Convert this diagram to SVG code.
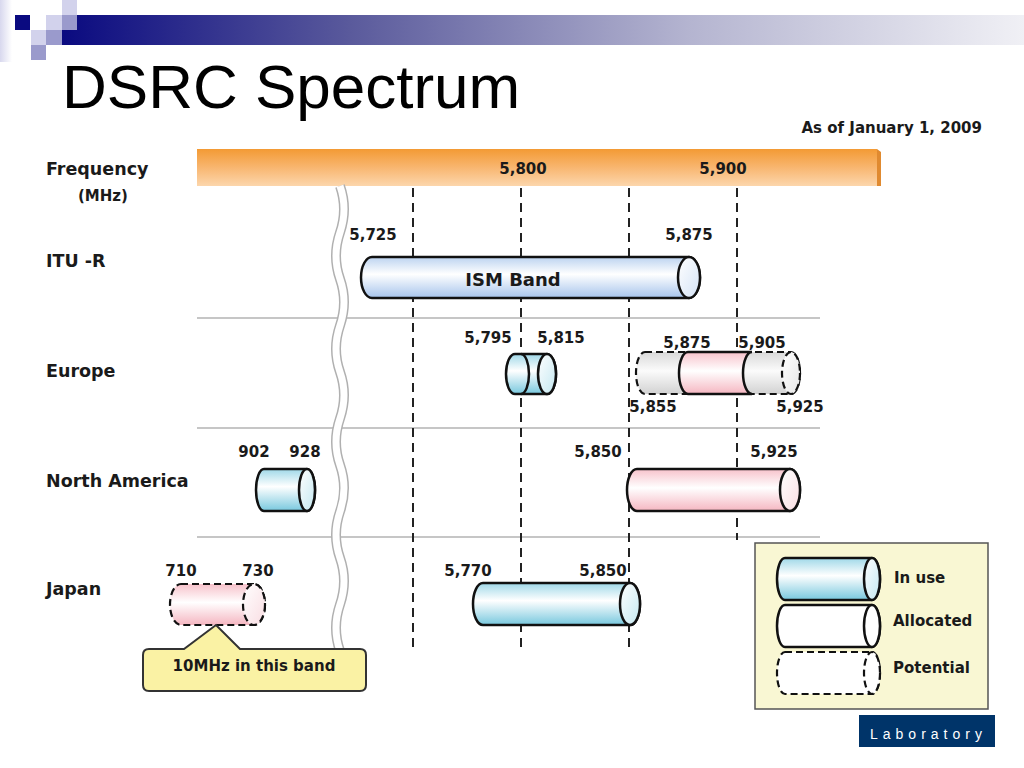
<svg xmlns="http://www.w3.org/2000/svg" width="1024" height="768" viewBox="0 0 1024 768">
<defs>
<linearGradient id="hdrBar" x1="0" y1="0" x2="1" y2="0">
<stop offset="0" stop-color="#0a0a80"/><stop offset="0.3" stop-color="#5a5a9c"/><stop offset="0.65" stop-color="#b4b4d0"/><stop offset="1" stop-color="#f0f0f5"/>
</linearGradient>
<linearGradient id="leftStrip" x1="0" y1="0" x2="1" y2="0">
<stop offset="0" stop-color="#d8d8ee"/><stop offset="1" stop-color="#ffffff"/>
</linearGradient>
<linearGradient id="orange" x1="0" y1="0" x2="0" y2="1">
<stop offset="0" stop-color="#f39a34"/><stop offset="0.5" stop-color="#f8b670"/><stop offset="1" stop-color="#fcd6ac"/>
</linearGradient>
<linearGradient id="gBlue" x1="0" y1="0" x2="0" y2="1">
<stop offset="0" stop-color="#9fd8e8"/><stop offset="0.42" stop-color="#ffffff"/><stop offset="1" stop-color="#78c8de"/>
</linearGradient>
<linearGradient id="gIsm" x1="0" y1="0" x2="0" y2="1">
<stop offset="0" stop-color="#bcd3f0"/><stop offset="0.42" stop-color="#ffffff"/><stop offset="1" stop-color="#a6c4ec"/>
</linearGradient>
<linearGradient id="gPink" x1="0" y1="0" x2="0" y2="1">
<stop offset="0" stop-color="#f7c2cb"/><stop offset="0.45" stop-color="#ffffff"/><stop offset="1" stop-color="#f5b6c1"/>
</linearGradient>
<linearGradient id="gGray" x1="0" y1="0" x2="0" y2="1">
<stop offset="0" stop-color="#d9d9d9"/><stop offset="0.45" stop-color="#fbfbfb"/><stop offset="1" stop-color="#d2d2d2"/>
</linearGradient>
<linearGradient id="fBlue" x1="0" y1="0" x2="1" y2="1">
<stop offset="0" stop-color="#ffffff"/><stop offset="1" stop-color="#c4e8f1"/>
</linearGradient>
<linearGradient id="fIsm" x1="0" y1="0" x2="1" y2="1">
<stop offset="0" stop-color="#ffffff"/><stop offset="1" stop-color="#d4e3f6"/>
</linearGradient>
<linearGradient id="fPink" x1="0" y1="0" x2="1" y2="1">
<stop offset="0" stop-color="#ffffff"/><stop offset="1" stop-color="#f9dde2"/>
</linearGradient>
<linearGradient id="fGray" x1="0" y1="0" x2="1" y2="1">
<stop offset="0" stop-color="#ffffff"/><stop offset="1" stop-color="#e6e6e6"/>
</linearGradient>
</defs>
<style>
.title{font-family:"Liberation Sans",Arial,sans-serif;font-size:62px;fill:#000}
.row{font-family:"DejaVu Sans",Verdana,sans-serif;font-weight:bold;font-size:17.5px;fill:#1a1a1a}
.num{font-family:"DejaVu Sans",Verdana,sans-serif;font-weight:bold;font-size:15px;fill:#1a1a1a;text-anchor:middle}
.lbl{font-family:"DejaVu Sans",Verdana,sans-serif;font-weight:bold;font-size:15px;fill:#1a1a1a}
.band{font-family:"DejaVu Sans",Verdana,sans-serif;font-weight:bold;font-size:18px;fill:#1a1a1a;text-anchor:middle}
.cyl{stroke:#111;stroke-width:2.5}
.dash{stroke:#111;stroke-width:2.2;stroke-dasharray:7 4}
.vline{stroke:#222;stroke-width:2;stroke-dasharray:9 6;fill:none}
.sep{stroke:#c6c6c6;stroke-width:2;fill:none}
</style>

<g id="header">
<rect x="0" y="0" width="12" height="62" fill="url(#leftStrip)"/>
<rect x="62" y="15" width="962" height="30" fill="url(#hdrBar)"/>
<rect x="15" y="15" width="15" height="15" fill="#0a0a80"/>
<rect x="46" y="15" width="16" height="15" fill="#d2d2ec"/>
<rect x="62" y="0" width="15" height="15" fill="#d2d2ec"/>
<rect x="62" y="15" width="15" height="15" fill="#9a9acc"/>
<rect x="31" y="30" width="15" height="15" fill="#d2d2ec"/>
<rect x="46" y="30" width="16" height="15" fill="#9a9acc"/>
<rect x="31" y="45" width="15" height="15" fill="#9a9acc"/>
</g>

<text class="title" x="62" y="108">DSRC Spectrum</text>
<text class="lbl" x="982" y="133" text-anchor="end">As of January 1, 2009</text>

<g id="freq-bar">
<rect x="197" y="149" width="680" height="37" fill="url(#orange)"/>
<polygon points="877,149 881,152 881,186 877,186" fill="#e08a30"/>
<text class="num" x="523" y="174">5,800</text>
<text class="num" x="723" y="174">5,900</text>
</g>
<text class="row" x="46" y="175">Frequency</text>
<text class="lbl" x="78" y="201">(MHz)</text>

<g id="connectors">
<line class="sep" x1="197" y1="318" x2="820" y2="318"/>
<line class="sep" x1="197" y1="428" x2="820" y2="428"/>
<line class="sep" x1="197" y1="537" x2="820" y2="537"/>
<line class="vline" x1="413" y1="188" x2="413" y2="648"/>
<line class="vline" x1="521" y1="188" x2="521" y2="648"/>
<line class="vline" x1="629" y1="188" x2="629" y2="648"/>
<line class="vline" x1="737" y1="188" x2="737" y2="540"/>
<path d="M340,186 Q348,209 340,232.5 T340,279 T340,325.5 T340,372 T340,418.5 T340,465 T340,511.5 T340,558 T340,604.5 T340,651" fill="none" stroke="#b0b0b0" stroke-width="10"/>
<path d="M340,186 Q348,209 340,232.5 T340,279 T340,325.5 T340,372 T340,418.5 T340,465 T340,511.5 T340,558 T340,604.5 T340,651" fill="none" stroke="#ffffff" stroke-width="7"/>
</g>

<text class="row" x="46" y="267">ITU -R</text>
<text class="row" x="46" y="377">Europe</text>
<text class="row" x="46" y="487">North America</text>
<text class="row" x="46" y="595">Japan</text>

<g id="itu-ism">
<path class="cyl" d="M372,257 H689 A11,20.5 0 0 1 689,298 H372 A11,20.5 0 0 1 372,257 Z" fill="url(#gIsm)"/>
<ellipse class="cyl" cx="689" cy="277.5" rx="11" ry="20.5" fill="url(#fIsm)"/>
<text class="band" x="513" y="286">ISM Band</text>
<text class="num" x="373" y="240">5,725</text>
<text class="num" x="689" y="240">5,875</text>
</g>

<g id="eu-inuse">
<path class="cyl" d="M515,354 H547 A9,20 0 0 1 547,394 H515 A9,20 0 0 1 515,354 Z" fill="url(#gBlue)"/>
<path class="cyl" d="M521,354 A8,20 0 0 1 521,394" fill="none"/>
<ellipse class="cyl" cx="547" cy="374" rx="9" ry="20" fill="url(#fBlue)"/>
<text class="num" x="488" y="343">5,795</text>
<text class="num" x="561" y="343">5,815</text>
</g>
<g id="eu-5900">
<path class="dash" d="M645,352 H791 A9,21 0 0 1 791,394 H645 A9,21 0 0 1 645,352 Z" fill="url(#gGray)"/>
<ellipse class="dash" cx="791" cy="373" rx="9" ry="21" fill="url(#fGray)"/>
<path class="cyl" d="M688,352 H752 A9,21 0 0 0 752,394 H688 A9,21 0 0 1 688,352 Z" fill="url(#gPink)"/>
<text class="num" x="687" y="348">5,875</text>
<text class="num" x="762" y="348">5,905</text>
<text class="num" x="653" y="412">5,855</text>
<text class="num" x="800" y="412">5,925</text>
</g>

<g id="na-902">
<path class="cyl" d="M264,469 H307 A8,21 0 0 1 307,511 H264 A8,21 0 0 1 264,469 Z" fill="url(#gBlue)"/>
<ellipse class="cyl" cx="307" cy="490" rx="8" ry="21" fill="url(#fBlue)"/>
<text class="num" x="254" y="457">902</text>
<text class="num" x="305" y="457">928</text>
</g>
<g id="na-5900">
<path class="cyl" d="M637,469 H790 A10,21 0 0 1 790,511 H637 A10,21 0 0 1 637,469 Z" fill="url(#gPink)"/>
<ellipse class="cyl" cx="790" cy="490" rx="10" ry="21" fill="url(#fPink)"/>
<text class="num" x="598" y="457">5,850</text>
<text class="num" x="774" y="457">5,925</text>
</g>

<g id="jp-710">
<path class="dash" d="M181,584 H254 A11,20.5 0 0 1 254,625 H181 A11,20.5 0 0 1 181,584 Z" fill="url(#gPink)"/>
<ellipse class="dash" cx="254" cy="604.5" rx="11" ry="20.5" fill="url(#fPink)"/>
<text class="num" x="181" y="576">710</text>
<text class="num" x="258" y="576">730</text>
</g>
<g id="jp-callout">
<path d="M149,649 H184 L216,625 L240,649 H360 Q366,649 366,655 V685 Q366,691 360,691 H149 Q143,691 143,685 V655 Q143,649 149,649 Z" fill="#faf2a4" stroke="#333" stroke-width="2"/>
<text class="lbl" x="254" y="671" text-anchor="middle">10MHz in this band</text>
</g>
<g id="jp-5800">
<path class="cyl" d="M483,583 H630 A10,21 0 0 1 630,625 H483 A10,21 0 0 1 483,583 Z" fill="url(#gBlue)"/>
<ellipse class="cyl" cx="630" cy="604" rx="10" ry="21" fill="url(#fBlue)"/>
<text class="num" x="468" y="576">5,770</text>
<text class="num" x="603" y="576">5,850</text>
</g>

<g id="legend">
<rect x="755" y="543" width="233" height="166" fill="#f9f7d3" stroke="#555" stroke-width="1.5"/>
<path class="cyl" d="M785,558 H872 A8,21 0 0 1 872,600 H785 A8,21 0 0 1 785,558 Z" fill="url(#gBlue)"/>
<ellipse class="cyl" cx="872" cy="579" rx="8" ry="21" fill="url(#fBlue)"/>
<path class="cyl" d="M785,605 H872 A8,21 0 0 1 872,647 H785 A8,21 0 0 1 785,605 Z" fill="#ffffff"/>
<ellipse class="cyl" cx="872" cy="626" rx="8" ry="21" fill="#ffffff"/>
<path class="dash" d="M785,652 H872 A8,21 0 0 1 872,694 H785 A8,21 0 0 1 785,652 Z" fill="#ffffff"/>
<ellipse class="dash" cx="872" cy="673" rx="8" ry="21" fill="#ffffff"/>
<text class="lbl" x="894" y="583">In use</text>
<text class="lbl" x="893" y="626">Allocated</text>
<text class="lbl" x="893" y="673">Potential</text>
</g>

<g id="footer">
<rect x="859" y="715" width="136" height="32" fill="#003469"/>
<text x="870" y="739" font-family="Liberation Sans, Arial, sans-serif" font-size="14" letter-spacing="5" fill="#ffffff">Laboratory</text>
</g>
</svg>
